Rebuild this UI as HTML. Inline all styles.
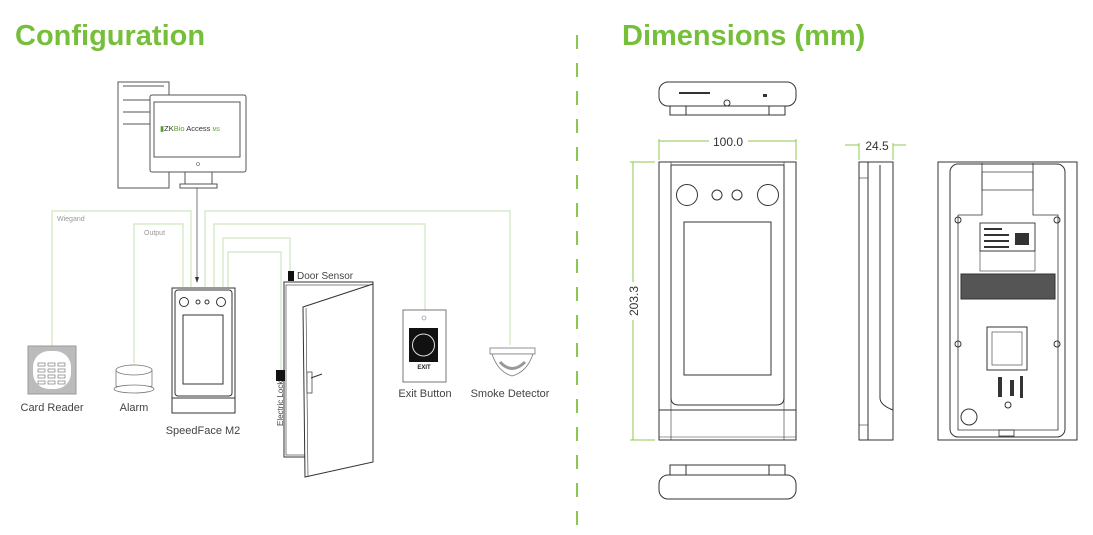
<!DOCTYPE html>
<html><head><meta charset="utf-8"><style>
html,body{margin:0;padding:0;background:#fff;}
svg{display:block;font-family:"Liberation Sans",sans-serif;}
</style></head><body>
<svg width="1093" height="535" viewBox="0 0 1093 535" xmlns="http://www.w3.org/2000/svg">
<text x="15" y="45" font-size="29" font-weight="bold" fill="#76bf3a">Configuration</text>
<text x="622" y="45" font-size="29" font-weight="bold" fill="#76bf3a">Dimensions (mm)</text>
<line x1="577" y1="35" x2="577" y2="535" stroke="#8cc850" stroke-width="2" stroke-dasharray="14,14"/>

<!-- wires -->
<g fill="none" stroke="#cfe6bd" stroke-width="1.2">
<polyline points="52,346 52,211 191,211 191,287"/>
<polyline points="134,363 134,224 183,224 183,287"/>
<polyline points="205,287 205,211 510,211 510,345"/>
<polyline points="214,287 214,224 425,224 425,310"/>
<polyline points="223,287 223,238 290,238 290,271"/>
<polyline points="228,287 228,252 281,252 281,370"/>
</g>
<text x="57" y="221" font-size="7" fill="#999">Wiegand</text>
<text x="144" y="235" font-size="7" fill="#999">Output</text>

<!-- computer -->
<g fill="#fff" stroke="#555" stroke-width="1">
<path d="M118,82 H169 V188 H118 Z"/>
<line x1="123" y1="86" x2="164" y2="86"/>
<line x1="123" y1="100" x2="150" y2="100"/><line x1="123" y1="112" x2="150" y2="112"/><line x1="123" y1="124" x2="150" y2="124"/>
<rect x="150" y="95" width="96" height="77" rx="2"/>
<rect x="154" y="102" width="86" height="55"/>
<rect x="185" y="172" width="27" height="12"/>
<rect x="180" y="184" width="37" height="4"/>
</g>
<circle cx="198" cy="164" r="1.5" fill="none" stroke="#555" stroke-width="0.6"/>
<text x="160" y="131" font-size="7.5" fill="#333"><tspan fill="#5aa02c">▮</tspan>ZK<tspan fill="#5aa02c">Bio</tspan> Access <tspan fill="#5aa02c" font-size="5">MS</tspan></text>
<line x1="197" y1="188" x2="197" y2="280" stroke="#555" stroke-width="0.8"/>
<path d="M195,277 L199,277 L197,283 Z" fill="#333"/>

<!-- speedface -->
<g fill="none" stroke="#333" stroke-width="1">
<rect x="172" y="288" width="63" height="125"/>
<line x1="172" y1="398" x2="235" y2="398"/>
<rect x="175" y="290" width="57" height="106" rx="3"/>
<rect x="183" y="315" width="40" height="69"/>
<circle cx="184" cy="302" r="4.5"/><circle cx="221" cy="302" r="4.5"/>
<circle cx="198" cy="302" r="2"/><circle cx="207" cy="302" r="2"/>
</g>
<text x="203" y="434" font-size="11" fill="#444" text-anchor="middle">SpeedFace M2</text>

<!-- card reader -->
<rect x="28" y="346" width="48" height="48" fill="#bbb" stroke="#999"/>
<rect x="33" y="351" width="38" height="38" rx="16" fill="#fff"/>
<g fill="#fff" stroke="#666" stroke-width="0.6">
<rect x="38" y="363" width="7" height="3"/><rect x="48" y="363" width="7" height="3"/><rect x="58" y="363" width="7" height="3"/>
<rect x="38" y="369" width="7" height="3"/><rect x="48" y="369" width="7" height="3"/><rect x="58" y="369" width="7" height="3"/>
<rect x="38" y="375" width="7" height="3"/><rect x="48" y="375" width="7" height="3"/><rect x="58" y="375" width="7" height="3"/>
<rect x="38" y="381" width="7" height="3"/><rect x="48" y="381" width="7" height="3"/><rect x="58" y="381" width="7" height="3"/>
</g>
<text x="52" y="411" font-size="11" fill="#444" text-anchor="middle">Card Reader</text>

<!-- alarm -->
<g fill="#fff" stroke="#777" stroke-width="0.8">
<path d="M116,370 Q134,360 152,370 V386 Q134,394 116,386 Z"/>
<ellipse cx="134" cy="370" rx="18" ry="5"/>
<ellipse cx="134" cy="389" rx="20" ry="4"/>
</g>
<text x="134" y="411" font-size="11" fill="#444" text-anchor="middle">Alarm</text>

<!-- door -->
<rect x="288" y="271" width="6" height="10" fill="#111"/>
<text x="297" y="279" font-size="10" fill="#444">Door Sensor</text>
<g fill="#fff" stroke="#333" stroke-width="1">
<rect x="284" y="282" width="89" height="175"/>
<rect x="286" y="285" width="85" height="170" fill="none" stroke-width="0.6"/>
<path d="M303,307 L373,284 L373,462 L305,477 Z"/>
<line x1="306" y1="308" x2="308" y2="477" stroke-width="0.6"/>
<rect x="307" y="372" width="5" height="21" stroke-width="0.7"/>
<line x1="311" y1="378" x2="322" y2="374" stroke-width="1"/>
</g>
<rect x="276" y="370" width="9" height="11" fill="#111"/>
<text transform="translate(283,426) rotate(-90)" font-size="8" fill="#444">Electric Lock</text>

<!-- exit button -->
<rect x="403" y="310" width="43" height="72" fill="#fff" stroke="#777"/>
<rect x="409" y="328" width="29" height="34" fill="#111"/>
<circle cx="423.5" cy="345" r="11" fill="none" stroke="#ddd" stroke-width="1"/>
<circle cx="424" cy="318" r="2" fill="none" stroke="#777" stroke-width="0.6"/>
<text x="424" y="369" font-size="6" font-weight="bold" fill="#222" text-anchor="middle">EXIT</text>
<text x="425" y="397" font-size="11" fill="#444" text-anchor="middle">Exit Button</text>

<!-- smoke -->
<g fill="#fff" stroke="#777" stroke-width="0.8">
<rect x="490" y="348" width="45" height="6"/>
<path d="M492,354 L533,354 Q527,372 512,376 Q498,372 492,354 Z"/>
</g>
<path d="M500,362 Q512,375 525,362" fill="none" stroke="#999" stroke-width="3"/>
<text x="510" y="397" font-size="11" fill="#444" text-anchor="middle">Smoke Detector</text>

<!-- dimensions -->
<g fill="none" stroke="#333" stroke-width="1">
<rect x="659" y="82" width="137" height="24" rx="9"/>
<path d="M670,106 V115 H785 V106"/>
<line x1="686" y1="106" x2="686" y2="115"/><line x1="769" y1="106" x2="769" y2="115"/>
<circle cx="727" cy="103" r="3"/>
<rect x="659" y="162" width="137" height="278"/>
<line x1="671" y1="162" x2="671" y2="440" stroke-width="0.6"/>
<line x1="784" y1="162" x2="784" y2="440" stroke-width="0.6"/>
<path d="M671,165 H784 V398 Q784,405 776,405 H679 Q671,405 671,398 Z"/>
<line x1="659" y1="410" x2="796" y2="410"/>
<line x1="659" y1="437" x2="796" y2="437" stroke-width="0.6"/>
<circle cx="687" cy="195" r="10.5"/><circle cx="768" cy="195" r="10.5"/>
<circle cx="717" cy="195" r="5"/><circle cx="737" cy="195" r="5"/>
<rect x="684" y="222" width="87" height="153"/>
<rect x="859" y="162" width="34" height="278"/>
<line x1="868" y1="162" x2="868" y2="440"/>
<path d="M880,165 V398 Q880,405 893,410"/>
<line x1="859" y1="178" x2="868" y2="178" stroke-width="0.6"/>
<line x1="859" y1="425" x2="868" y2="425" stroke-width="0.6"/>
<rect x="938" y="162" width="139" height="278"/>
<rect x="950" y="164" width="115" height="273" rx="8"/>
<path d="M958,215 H982 V163 M1033,163 V215 H1058 V430 H958 V215" stroke-width="0.8"/>
<rect x="982" y="172" width="51" height="18" stroke-width="0.7"/>
<rect x="980" y="223" width="55" height="28" stroke-width="0.9"/>
<rect x="980" y="251" width="55" height="20" stroke-width="0.6"/>
<rect x="961" y="274" width="94" height="25" fill="#555"/>
<rect x="987" y="327" width="40" height="43" stroke-width="1"/>
<rect x="992" y="332" width="30" height="33" stroke-width="0.6"/>
<circle cx="969" cy="417" r="8"/>
<rect x="999" y="430" width="15" height="6" stroke-width="0.8"/>
<circle cx="958" cy="220" r="3"/><circle cx="1057" cy="220" r="3"/>
<circle cx="958" cy="344" r="3"/><circle cx="1057" cy="344" r="3"/>
<circle cx="1008" cy="405" r="3"/>
<path d="M670,475 V465 H785 V475"/>
<line x1="686" y1="465" x2="686" y2="475"/><line x1="769" y1="465" x2="769" y2="475"/>
<rect x="659" y="475" width="137" height="24" rx="9"/>
</g>
<g fill="#333">
<rect x="679" y="92" width="31" height="2"/>
<rect x="763" y="94" width="4" height="3"/>
<rect x="984" y="228" width="18" height="2"/><rect x="984" y="234" width="25" height="2"/><rect x="984" y="240" width="25" height="2"/><rect x="984" y="246" width="25" height="2"/>
<rect x="1015" y="233" width="14" height="12"/>
<rect x="998" y="377" width="4" height="20"/><rect x="1010" y="380" width="4" height="16"/><rect x="1020" y="376" width="3" height="22"/>
</g>
<g stroke="#8cc850" stroke-width="1" fill="none">
<line x1="659" y1="141" x2="709" y2="141"/><line x1="748" y1="141" x2="796" y2="141"/>
<line x1="659" y1="139" x2="659" y2="160"/><line x1="796" y1="139" x2="796" y2="160"/>
<line x1="633" y1="162" x2="633" y2="282"/><line x1="633" y1="320" x2="633" y2="440"/>
<line x1="630" y1="162" x2="655" y2="162"/><line x1="630" y1="440" x2="655" y2="440"/>
<line x1="845" y1="145" x2="859" y2="145"/><line x1="893" y1="145" x2="906" y2="145"/>
<line x1="859" y1="143" x2="859" y2="160"/><line x1="893" y1="143" x2="893" y2="160"/>
</g>
<text x="728" y="146" font-size="12" fill="#333" text-anchor="middle">100.0</text>
<text x="877" y="150" font-size="12" fill="#333" text-anchor="middle">24.5</text>
<text transform="translate(638,301) rotate(-90)" font-size="12" fill="#333" text-anchor="middle">203.3</text>
</svg>
</body></html>
